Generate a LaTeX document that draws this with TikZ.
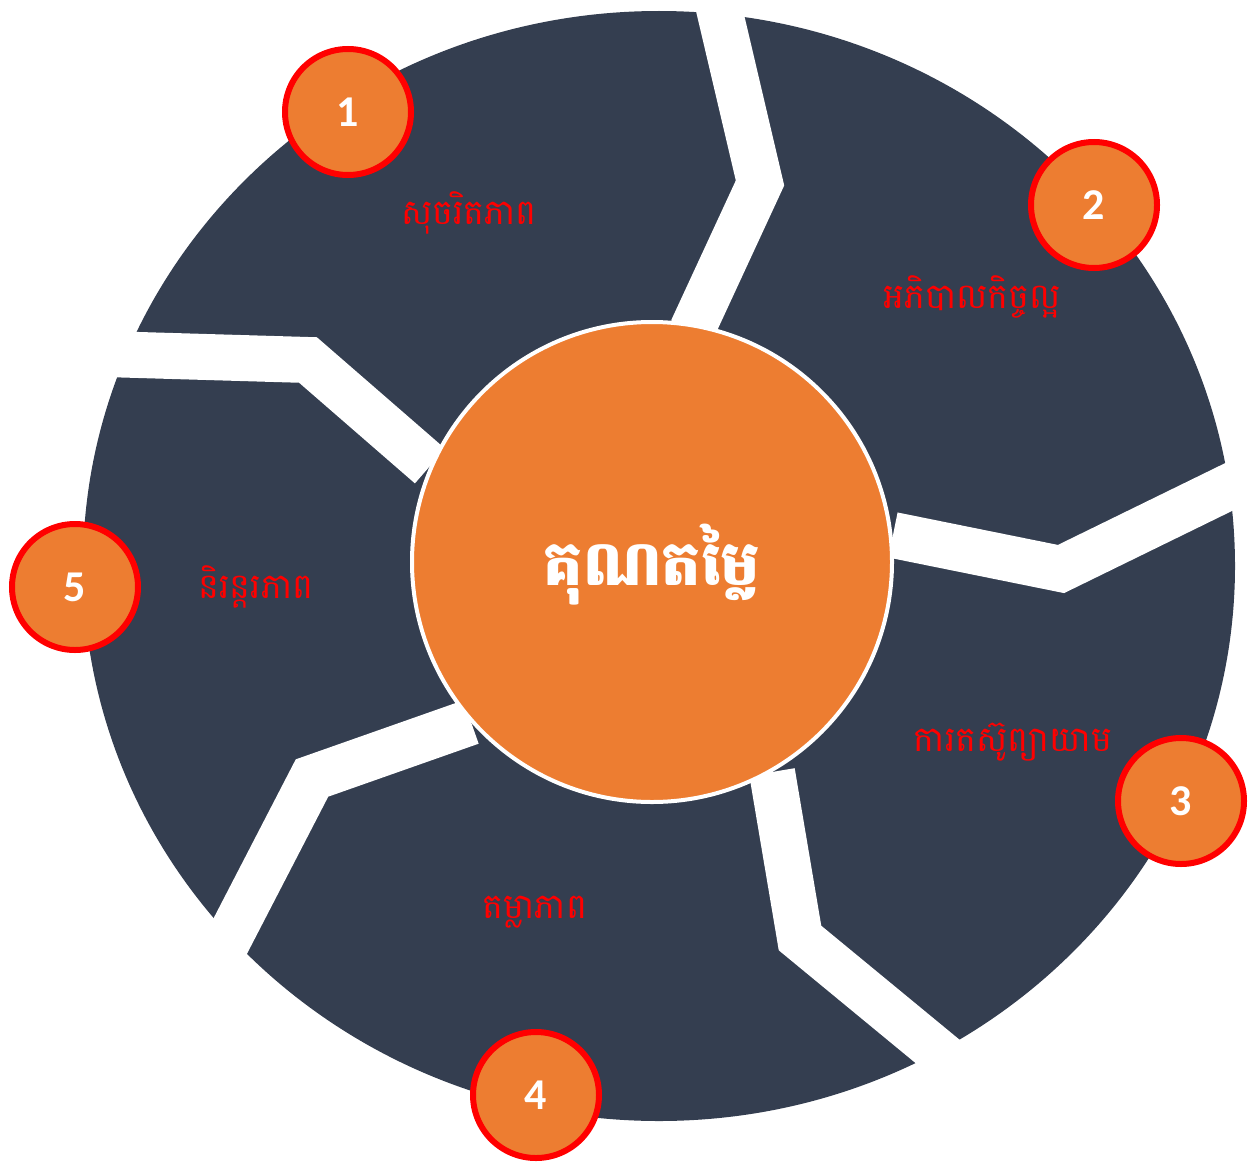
\documentclass[tikz,border=0pt]{standalone}
\usepackage{fontspec}
\newfontfamily\khmer[Script=Khmer]{Battambang}
\newfontfamily\numfont{Carlito}
\definecolor{navy}{HTML}{343E50}
\definecolor{orng}{HTML}{ED7D31}
\definecolor{lblred}{HTML}{FF0000}
\begin{document}
\begin{tikzpicture}[x=1pt,y=-1pt,
  band/.style={white,line width=46pt,line cap=butt,line join=miter},
  numcirc/.style={circle,fill=orng,draw=lblred,line width=6pt,minimum size=126pt,inner sep=0pt,
     text=white,font=\numfont\fontsize{44}{44}\selectfont\bfseries},
  lbl/.style={text=lblred,font=\khmer\fontsize{35}{40}\selectfont,inner sep=0pt}]
\useasboundingbox (0,0) rectangle (1255,1164);
\fill[navy] (659,566) ellipse [x radius=576, y radius=555];
% white separators
\draw[band] (717,0) -- (760,183) -- (692,330);
\draw[band] (893,535) -- (1061,569) -- (1245,479);
\draw[band] (772,772) -- (800,938) -- (948,1060);
\draw[band] (471,722) -- (312,778) -- (222,952);
\draw[band] (105,354) -- (308,360) -- (430,466);
% centre
\node[circle,fill=orng,draw=white,line width=4pt,minimum size=480pt,inner sep=0pt] (hub) at (652,562) {};
\node[text=white,font=\khmer\fontsize{62}{66}\selectfont\bfseries] (title) at (652,565) {គុណតម្លៃ};
% labels
\node[lbl] (l1) at (469,213) {សុចរិតភាព};
\node[lbl] (l2) at (972,297) {អភិបាលកិច្ចល្អ};
\node[lbl] (l3) at (1013,742) {ការតស៊ូព្យាយាម};
\node[lbl] (l4) at (535,912) {តម្លាភាព};
\node[lbl] (l5) at (256,587) {និរន្តរភាព};
% number badges
\node[numcirc] (n1) at (348,112) {1};
\node[numcirc] (n2) at (1094,205) {2};
\node[numcirc] (n3) at (1181,801) {3};
\node[numcirc] (n4) at (536,1095) {4};
\node[numcirc] (n5) at (75,587) {5};
\end{tikzpicture}
\end{document}
